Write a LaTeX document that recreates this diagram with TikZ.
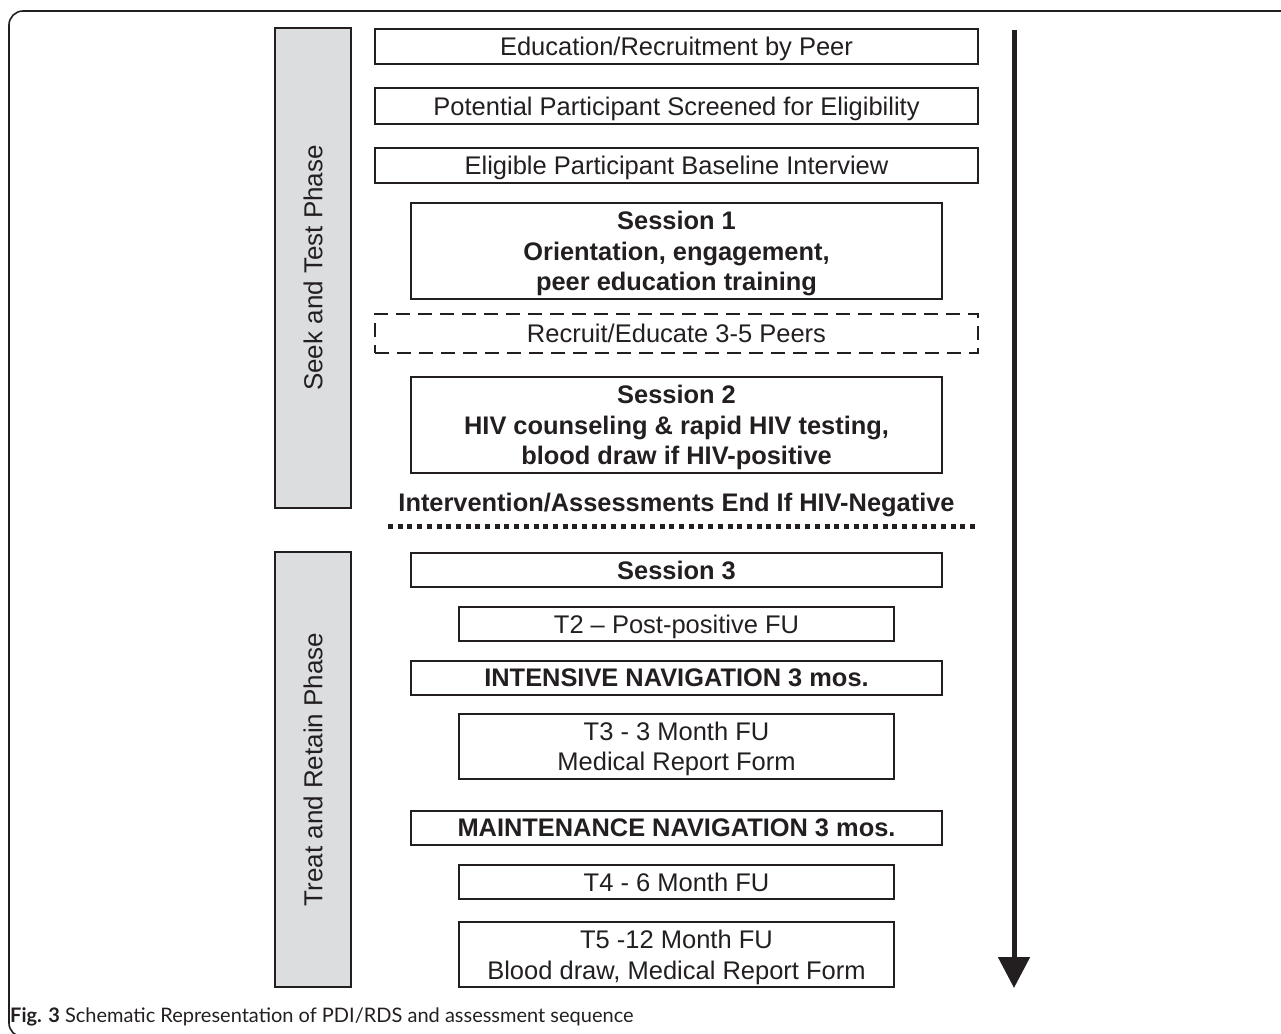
\documentclass[tikz,border=0pt]{standalone}
\usepackage{fontspec}
\setmainfont{Liberation Sans}
\newfontfamily\capfont{Lato}
\usetikzlibrary{arrows.meta}
\definecolor{ink}{HTML}{231F20}
\definecolor{phasegray}{HTML}{DCDDDF}
\tikzset{
    box/.style={draw=ink, text=ink, line width=1.8pt, align=center, text depth=0pt,
        font=\fontsize{25.5}{30.5}\selectfont, inner sep=0pt},
    boldbox/.style={box, line width=2.8pt, font=\fontsize{25.4}{30.5}\selectfont\bfseries},
    phase/.style={draw=ink, fill=phasegray, text=ink, line width=1.8pt, rotate=90,
        font=\fontsize{26}{30}\selectfont, inner sep=0pt},
}
\begin{document}
\begin{tikzpicture}[x=1pt,y=-1pt]
\useasboundingbox (0,0) rectangle (1281,1033);
\draw[ink, line width=1.6pt, rounded corners=14pt] (9,11) rectangle (1320,1037); %frame

%phases
\node[phase, minimum width=480pt, minimum height=76pt] (seek) at (313,268) {Seek and Test Phase};
\node[phase, minimum width=435pt, minimum height=76pt] (treat) at (313,769.5) {Treat and Retain Phase};

%seek and test
\node[box, minimum width=603pt, minimum height=35pt] (edu) at (676.5,46.5) {Education/Recruitment by Peer};
\node[box, minimum width=603pt, minimum height=36pt] (screen) at (676.5,106) {Potential Participant Screened for Eligibility};
\node[box, minimum width=603pt, minimum height=35pt] (base) at (676.5,165.5) {Eligible Participant Baseline Interview};
\node[boldbox, minimum width=531pt, minimum height=96pt] (s1) at (676.5,251)
    {Session 1\\Orientation, engagement,\\peer education training};
\node[box, dash pattern=on 14pt off 8pt, minimum width=603pt, minimum height=39pt] (peers) at (676.5,333.5)
    {Recruit/Educate 3-5 Peers};
\node[boldbox, minimum width=531pt, minimum height=96pt] (s2) at (676.5,425)
    {Session 2\\HIV counseling \& rapid HIV testing,\\blood draw if HIV-positive};
\node[text=ink, text depth=0pt, font=\fontsize{25.4}{30}\selectfont\bfseries] (stop) at (676.5,502)
    {Intervention/Assessments End If HIV-Negative};

%divider
\coordinate (dl) at (388,526);
\coordinate (dr) at (978,526);
\draw[ink, line width=5pt, dash pattern=on 5pt off 4.7pt] (dl) -- (dr);

%treat and retain
\node[boldbox, minimum width=531pt, minimum height=34pt] (s3) at (676.5,570) {Session 3};
\node[box, minimum width=435pt, minimum height=34pt] (t2) at (676.5,624) {T2 -- Post-positive FU};
\node[box, font=\fontsize{25.4}{30.5}\selectfont\bfseries, minimum width=531pt, minimum height=34pt] (inten) at (676.5,678)
    {INTENSIVE NAVIGATION 3 mos.};
\node[box, minimum width=435pt, minimum height=65pt] (t3) at (676.5,746.5) {T3 - 3 Month FU\\Medical Report Form};
\node[box, font=\fontsize{25.4}{30.5}\selectfont\bfseries, minimum width=531pt, minimum height=34pt] (maint) at (676.5,828)
    {MAINTENANCE NAVIGATION 3 mos.};
\node[box, minimum width=435pt, minimum height=34pt] (t4) at (676.5,882) {T4 - 6 Month FU};
\node[box, minimum width=435pt, minimum height=65pt] (t5) at (676.5,954.5)
    {T5 -12 Month FU\\Blood draw, Medical Report Form};

%time arrow
\coordinate (start) at (1014,30);
\coordinate (tip) at (1014,988);
\draw[ink, line width=5pt, -{Triangle[length=31pt,width=31pt]}] (start) -- (tip);

%caption
\node[anchor=base west, inner sep=0pt, text=ink, font=\capfont\fontsize{20}{22}\selectfont] (cap) at (10,1022)
    {\textbf{Fig. 3} Schematic Representation of PDI/RDS and assessment sequence};
\end{tikzpicture}
\end{document}
